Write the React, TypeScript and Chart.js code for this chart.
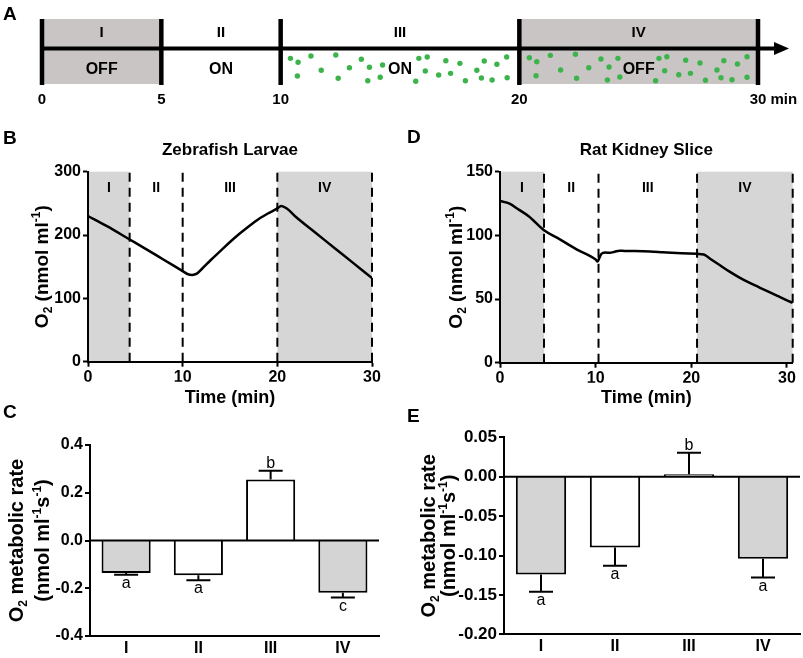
import React, { useEffect, useRef } from 'react';
import { Chart, registerables } from 'chart.js';

Chart.register(...registerables);

const FONT = '"Liberation Sans", Arial, Helvetica, sans-serif';
Chart.defaults.font.family = FONT;
Chart.defaults.color = '#000';

// ---------------- data ----------------
const phases = ['I', 'II', 'III', 'IV'];
const lightStates = ['OFF', 'ON', 'ON', 'OFF'];
const timelineBounds = [0, 5, 10, 20, 30];

// green dots (minutes, relative height in the timeline band)
const dotTimes = [
  10.41, 10.73, 11.27, 10.7, 11.7, 12.31, 12.41, 12.88, 13.38, 13.72, 13.65, 14.27, 14.17, 15.79, 16.14,
  16.06, 15.66, 16.62, 16.92, 17.12, 17.51, 17.74, 18.22, 18.53, 18.41, 18.86, 19.06, 19.47, 19.49,
  20.42, 20.73, 21.3, 20.7, 21.73, 22.35, 22.4, 22.91, 23.42, 23.76, 23.69, 24.13, 24.21, 25.85, 26.18,
  26.09, 25.71, 26.68, 26.97, 27.17, 27.57, 27.8, 28.28, 28.57, 28.45, 28.91, 29.14, 29.54, 29.54,
];
const dotLevels = [
  0.395, 0.334, 0.431, 0.123, 0.211, 0.446, 0.088, 0.251, 0.38, 0.257, 0.051, 0.292, 0.103, 0.395, 0.415,
  0.2, 0.042, 0.138, 0.358, 0.164, 0.318, 0.051, 0.211, 0.354, 0.092, 0.062, 0.303, 0.415, 0.097,
  0.405, 0.343, 0.441, 0.128, 0.215, 0.457, 0.088, 0.251, 0.385, 0.262, 0.062, 0.395, 0.108, 0.395, 0.42,
  0.205, 0.051, 0.143, 0.365, 0.164, 0.323, 0.057, 0.215, 0.359, 0.097, 0.066, 0.308, 0.42, 0.103,
];

const zebraTime = [0, 2, 4.4, 6, 8, 10, 10.5, 11, 11.5, 12, 13, 14, 15, 16, 17, 18, 19, 20, 20.4, 21, 22, 24, 26, 28, 30];
const zebraO2 = [230, 214, 193, 179, 161, 143, 138.5, 137, 139, 146, 161, 175, 189, 202, 214, 225, 234, 242, 246, 242, 228, 204, 180, 156, 132];
const zebraBounds = [0, 4.4, 10, 20, 30];
const zebraYTicks = [0, 100, 200, 300];

const kidneyTime = [0, 1, 2, 3, 4.6, 6, 8, 10, 10.2, 10.4, 10.6, 11, 11.5, 12, 12.5, 13, 15, 17, 19, 20.6, 21.3, 22, 23, 24, 25, 26, 27, 28, 29, 30, 30.6];
const kidneyO2 = [127, 125, 120, 115, 104, 98, 89, 81, 79.5, 82.5, 85.5, 86.5, 86.3, 87.2, 88, 87.8, 87.5, 86.8, 86, 85.5, 85, 81.5, 76.5, 71.5, 67, 63, 59.5, 56, 52.5, 49, 47];
const kidneyBounds = [0, 4.6, 10.3, 20.6, 30.6];
const kidneyYTicks = [0, 50, 100, 150];

const timeTicks = [0, 10, 20, 30];

const zebraRate = [-0.136, -0.146, 0.256, -0.219];
const zebraErr = [0.007, 0.021, 0.036, 0.02];
const zebraSig = ['a', 'a', 'b', 'c'];
const zebraRateTicks = [-0.4, -0.2, 0, 0.2, 0.4];

const kidneyRate = [-0.124, -0.09, 0.003, -0.104];
const kidneyErr = [0.022, 0.023, 0.0275, 0.024];
const kidneySig = ['a', 'a', 'b', 'a'];
const kidneyRateTicks = [-0.2, -0.15, -0.1, -0.05, 0, 0.05];

// ---------------- styles ----------------
const SHADE_TIMELINE = '#c9c5c5';
const SHADE_PLOT = '#d6d6d6';
const BAR_GRAY = '#d4d4d4';
const DOT_GREEN = '#3cb44b';
const tickFont = (size: number) => ({ family: FONT, size, weight: 'bold' as const });

type Seg = [string, number]; // 0 normal, 1 superscript, -1 subscript

function drawRich(ctx: CanvasRenderingContext2D, segs: Seg[], cx: number, cy: number, size: number, rotated: boolean) {
  ctx.save();
  ctx.translate(cx, cy);
  if (rotated) ctx.rotate(-Math.PI / 2);
  ctx.textBaseline = 'alphabetic';
  ctx.textAlign = 'left';
  ctx.fillStyle = '#000';
  const fontFor = (k: number) => `bold ${k === 0 ? size : Math.round(size * 0.62)}px ${FONT}`;
  let total = 0;
  for (const [t, k] of segs) {
    ctx.font = fontFor(k);
    total += ctx.measureText(t).width;
  }
  let x = -total / 2;
  const base = size * 0.36;
  for (const [t, k] of segs) {
    ctx.font = fontFor(k);
    const dy = k === 1 ? -size * 0.4 : k === -1 ? size * 0.2 : 0;
    ctx.fillText(t, x, base + dy);
    x += ctx.measureText(t).width;
  }
  ctx.restore();
}

function drawText(ctx: CanvasRenderingContext2D, text: string, x: number, y: number, font: string, align: CanvasTextAlign = 'center', baseline: CanvasTextBaseline = 'middle') {
  ctx.save();
  ctx.font = font;
  ctx.fillStyle = '#000';
  ctx.textAlign = align;
  ctx.textBaseline = baseline;
  ctx.fillText(text, x, y);
  ctx.restore();
}

// ---------------- panel A ----------------
const timelinePlugin = {
  id: 'timeline',
  beforeDraw(chart: any) {
    const { ctx, chartArea, scales } = chart;
    const x = scales.x;
    ctx.save();
    ctx.fillStyle = SHADE_TIMELINE;
    lightStates.forEach((s, i) => {
      if (s !== 'OFF') return;
      const x0 = x.getPixelForValue(timelineBounds[i]);
      const x1 = x.getPixelForValue(timelineBounds[i + 1]);
      ctx.fillRect(x0, chartArea.top, x1 - x0, chartArea.bottom - chartArea.top);
    });
    ctx.restore();
  },
  afterDatasetsDraw(chart: any) {
    const { ctx, chartArea, scales } = chart;
    const x = scales.x;
    const { top, bottom } = chartArea;
    const lineY = top + 29.5;
    const xEnd = x.getPixelForValue(timelineBounds[timelineBounds.length - 1]);
    ctx.save();
    ctx.strokeStyle = '#000';
    ctx.fillStyle = '#000';
    ctx.lineWidth = 4;
    ctx.beginPath();
    ctx.moveTo(x.getPixelForValue(timelineBounds[0]), lineY);
    ctx.lineTo(xEnd + 18, lineY);
    ctx.stroke();
    ctx.beginPath();
    ctx.moveTo(xEnd + 16, lineY - 6.5);
    ctx.lineTo(xEnd + 31, lineY);
    ctx.lineTo(xEnd + 16, lineY + 6.5);
    ctx.closePath();
    ctx.fill();
    ctx.lineWidth = 4.5;
    timelineBounds.forEach((b) => {
      const px = x.getPixelForValue(b);
      ctx.beginPath();
      ctx.moveTo(px, top);
      ctx.lineTo(px, bottom + 1);
      ctx.stroke();
    });
    ctx.restore();
    phases.forEach((p, i) => {
      const mid = (x.getPixelForValue(timelineBounds[i]) + x.getPixelForValue(timelineBounds[i + 1])) / 2;
      drawText(ctx, p, mid, top + 14, `bold 15px ${FONT}`);
      drawText(ctx, lightStates[i], mid, top + 51, `bold 16px ${FONT}`);
    });
    timelineBounds.forEach((b, i) => {
      const px = x.getPixelForValue(b);
      const label = String(b);
      if (i === timelineBounds.length - 1) {
        ctx.save();
        ctx.font = `bold 15px ${FONT}`;
        const w = ctx.measureText(label).width;
        ctx.restore();
        drawText(ctx, label + ' min', px - w / 2, bottom + 16, `bold 15px ${FONT}`, 'left');
      } else {
        drawText(ctx, label, px, bottom + 16, `bold 15px ${FONT}`);
      }
    });
    drawText(ctx, 'A', 3, 20, `bold 19px ${FONT}`, 'left', 'alphabetic');
  },
};

function timelineConfig(): any {
  return {
    type: 'scatter',
    data: {
      datasets: [
        {
          data: dotTimes.map((t, i) => ({ x: t, y: dotLevels[i] })),
          pointRadius: 2.7,
          pointHoverRadius: 2.7,
          pointBackgroundColor: DOT_GREEN,
          pointBorderWidth: 0,
        },
      ],
    },
    options: {
      animation: false,
      responsive: false,
      events: [],
      layout: { padding: { left: 42, right: 45, top: 19, bottom: 28 } },
      plugins: { legend: { display: false }, tooltip: { enabled: false } },
      scales: {
        x: { type: 'linear', min: 0, max: 30, display: false },
        y: { type: 'linear', min: 0, max: 1, display: false },
      },
    },
    plugins: [timelinePlugin],
  };
}

// ---------------- panels B / D ----------------
interface LineOpts {
  time: number[];
  o2: number[];
  bounds: number[];
  yTicks: number[];
  yMax: number;
  xMax: number;
  padding: any;
  yWidth: number;
  letter: string;
  letterX: number;
  letterY: number;
  title: string;
  titleY: number;
  yTitleOffset: number;
  xTitleY: number;
}

const O2_TITLE: Seg[] = [['O', 0], ['2', -1], [' (nmol ml', 0], ['-1', 1], [')', 0]];

function linePanelPlugin(o: LineOpts) {
  return {
    id: 'linePanel',
    beforeDraw(chart: any) {
      const { ctx, chartArea, scales } = chart;
      const x = scales.x;
      ctx.save();
      ctx.fillStyle = SHADE_PLOT;
      lightStates.forEach((s, i) => {
        if (s !== 'OFF') return;
        const x0 = x.getPixelForValue(o.bounds[i]);
        const x1 = x.getPixelForValue(o.bounds[i + 1]);
        ctx.fillRect(x0, chartArea.top, x1 - x0, chartArea.bottom - chartArea.top);
      });
      ctx.restore();
    },
    beforeDatasetsDraw(chart: any) {
      const { ctx, chartArea, scales } = chart;
      const x = scales.x;
      ctx.save();
      ctx.strokeStyle = '#000';
      ctx.lineWidth = 2;
      ctx.setLineDash([9, 6]);
      o.bounds.slice(1).forEach((b) => {
        const px = x.getPixelForValue(b);
        ctx.beginPath();
        ctx.moveTo(px, chartArea.bottom);
        ctx.lineTo(px, chartArea.top);
        ctx.stroke();
      });
      ctx.restore();
    },
    afterDatasetsDraw(chart: any) {
      const { ctx, chartArea, scales } = chart;
      const x = scales.x;
      phases.forEach((p, i) => {
        const mid = (x.getPixelForValue(o.bounds[i]) + x.getPixelForValue(o.bounds[i + 1])) / 2;
        drawText(ctx, p, mid, chartArea.top + 16, `bold 14px ${FONT}`);
      });
    },
    afterDraw(chart: any) {
      const { ctx, chartArea } = chart;
      const cx = (chartArea.left + chartArea.right) / 2;
      const cy = (chartArea.top + chartArea.bottom) / 2;
      drawText(ctx, o.letter, o.letterX, o.letterY, `bold 19px ${FONT}`, 'left', 'alphabetic');
      drawText(ctx, o.title, cx, o.titleY, `bold 17px ${FONT}`);
      drawText(ctx, 'Time (min)', cx, o.xTitleY, `bold 18px ${FONT}`);
      drawRich(ctx, O2_TITLE, chartArea.left - o.yTitleOffset, cy, 19, true);
    },
  };
}

function lineConfig(o: LineOpts): any {
  return {
    type: 'line',
    data: {
      datasets: [
        {
          data: o.time.map((t, i) => ({ x: t, y: o.o2[i] })),
          borderColor: '#000',
          borderWidth: 2.5,
          pointRadius: 0,
          cubicInterpolationMode: 'monotone',
          fill: false,
        },
      ],
    },
    options: {
      animation: false,
      responsive: false,
      events: [],
      layout: { padding: o.padding },
      plugins: { legend: { display: false }, tooltip: { enabled: false } },
      scales: {
        x: {
          type: 'linear',
          min: 0,
          max: o.xMax,
          afterBuildTicks: (s: any) => {
            s.ticks = timeTicks.map((v) => ({ value: v }));
          },
          afterFit: (s: any) => {
            s.height = 20;
          },
          grid: { drawOnChartArea: false, tickLength: 5, tickWidth: 2, tickColor: '#000' },
          border: { color: '#000', width: 2 },
          ticks: { font: tickFont(16), color: '#000', padding: 1, maxRotation: 0 },
        },
        y: {
          type: 'linear',
          min: 0,
          max: o.yMax,
          afterBuildTicks: (s: any) => {
            s.ticks = o.yTicks.map((v) => ({ value: v }));
          },
          afterFit: (s: any) => {
            s.width = o.yWidth;
          },
          grid: { drawOnChartArea: false, tickLength: 5, tickWidth: 2, tickColor: '#000' },
          border: { color: '#000', width: 2 },
          ticks: { font: tickFont(16), color: '#000', padding: 2 },
        },
      },
    },
    plugins: [linePanelPlugin(o)],
  };
}

// ---------------- panels C / E ----------------
interface BarOpts {
  rate: number[];
  err: number[];
  sig: string[];
  ticks: number[];
  yMin: number;
  yMax: number;
  decimals: number;
  padding: any;
  yWidth: number;
  yTickSize: number;
  letter: string;
  letterX: number;
  letterY: number;
  title1Offset: number;
  title2Offset: number;
}

const RATE_TITLE_1: Seg[] = [['O', 0], ['2', -1], [' metabolic rate', 0]];
const RATE_TITLE_2: Seg[] = [['(nmol ml', 0], ['-1', 1], ['s', 0], ['-1', 1], [')', 0]];

function barPanelPlugin(o: BarOpts) {
  return {
    id: 'barPanel',
    afterDatasetsDraw(chart: any) {
      const { ctx, scales, chartArea } = chart;
      const y = scales.y;
      const meta = chart.getDatasetMeta(0);
      ctx.save();
      ctx.strokeStyle = '#000';
      ctx.lineWidth = 2;
      // zero line on top of the bars
      const zero = y.getPixelForValue(0);
      ctx.beginPath();
      ctx.moveTo(chartArea.left, zero);
      ctx.lineTo(chartArea.right, zero);
      ctx.stroke();
      o.rate.forEach((v, i) => {
        const el = meta.data[i];
        const sign = v >= 0 ? 1 : -1;
        const start = y.getPixelForValue(v);
        const end = y.getPixelForValue(v + sign * o.err[i]);
        ctx.beginPath();
        ctx.moveTo(el.x, start);
        ctx.lineTo(el.x, end);
        ctx.moveTo(el.x - 12, end);
        ctx.lineTo(el.x + 12, end);
        ctx.stroke();
        drawText(ctx, o.sig[i], el.x, sign < 0 ? end + 13 : end - 3, `16px ${FONT}`, 'center', 'alphabetic');
      });
      ctx.restore();
    },
    afterDraw(chart: any) {
      const { ctx, chartArea } = chart;
      const cy = (chartArea.top + chartArea.bottom) / 2;
      drawText(ctx, o.letter, o.letterX, o.letterY, `bold 19px ${FONT}`, 'left', 'alphabetic');
      drawRich(ctx, RATE_TITLE_1, chartArea.left - o.title1Offset, cy, 20, true);
      drawRich(ctx, RATE_TITLE_2, chartArea.left - o.title2Offset, cy, 20, true);
    },
  };
}

function barConfig(o: BarOpts): any {
  return {
    type: 'bar',
    data: {
      labels: phases,
      datasets: [
        {
          data: o.rate,
          backgroundColor: lightStates.map((s) => (s === 'OFF' ? BAR_GRAY : '#ffffff')),
          borderColor: '#000',
          borderWidth: 2,
          borderSkipped: 'start',
          inflateAmount: 0,
          barPercentage: 0.68,
          categoryPercentage: 1,
        },
      ],
    },
    options: {
      animation: false,
      responsive: false,
      events: [],
      layout: { padding: o.padding },
      plugins: { legend: { display: false }, tooltip: { enabled: false } },
      scales: {
        x: {
          afterFit: (s: any) => {
            s.height = 20;
          },
          grid: { display: true, drawOnChartArea: false, drawTicks: false },
          border: { color: '#000', width: 2 },
          ticks: { font: tickFont(16), color: '#000', padding: 3 },
        },
        y: {
          type: 'linear',
          min: o.yMin,
          max: o.yMax,
          afterBuildTicks: (s: any) => {
            s.ticks = o.ticks.map((v) => ({ value: v }));
          },
          afterFit: (s: any) => {
            s.width = o.yWidth;
          },
          grid: {
            drawOnChartArea: false,
            lineWidth: 0,
            tickLength: 5,
            tickWidth: 2,
            tickColor: '#000',
          },
          border: { color: '#000', width: 2 },
          ticks: {
            font: tickFont(o.yTickSize),
            color: '#000',
            padding: 2,
            callback: (v: any) => Number(v).toFixed(o.decimals),
          },
        },
      },
    },
    plugins: [barPanelPlugin(o)],
  };
}

// ---------------- component ----------------
function ChartBox({ left, top, width, height, make }: { left: number; top: number; width: number; height: number; make: () => any }) {
  const ref = useRef<HTMLCanvasElement>(null);
  useEffect(() => {
    const chart = new Chart(ref.current as HTMLCanvasElement, make());
    return () => chart.destroy();
  }, []);
  return (
    <canvas
      ref={ref}
      width={width}
      height={height}
      style={{ position: 'absolute', left, top, width, height }}
    />
  );
}

export default function App() {
  return (
    <div style={{ position: 'absolute', left: 0, top: 0, width: 803, height: 658, background: '#fff', overflow: 'hidden' }}>
      <ChartBox left={0} top={0} width={803} height={112} make={timelineConfig} />
      <ChartBox
        left={0}
        top={110}
        width={400}
        height={300}
        make={() =>
          lineConfig({
            time: zebraTime,
            o2: zebraO2,
            bounds: zebraBounds,
            yTicks: zebraYTicks,
            yMax: 300,
            xMax: 30,
            padding: { left: 0, top: 61.7, right: 28, bottom: 28.3 },
            yWidth: 88,
            letter: 'B',
            letterX: 3,
            letterY: 34,
            title: 'Zebrafish Larvae',
            titleY: 40,
            yTitleOffset: 47,
            xTitleY: 288,
          })
        }
      />
      <ChartBox
        left={400}
        top={110}
        width={403}
        height={300}
        make={() =>
          lineConfig({
            time: kidneyTime,
            o2: kidneyO2,
            bounds: kidneyBounds,
            yTicks: kidneyYTicks,
            yMax: 150,
            xMax: 30.6,
            padding: { left: 0, top: 61.7, right: 10.3, bottom: 27.3 },
            yWidth: 100,
            letter: 'D',
            letterX: 7,
            letterY: 33,
            title: 'Rat Kidney Slice',
            titleY: 40,
            yTitleOffset: 45,
            xTitleY: 288,
          })
        }
      />
      <ChartBox
        left={0}
        top={395}
        width={400}
        height={263}
        make={() =>
          barConfig({
            rate: zebraRate,
            err: zebraErr,
            sig: zebraSig,
            ticks: zebraRateTicks,
            yMin: -0.4,
            yMax: 0.4,
            decimals: 1,
            padding: { left: 0, top: 50, right: 21, bottom: 2 },
            yWidth: 90,
            yTickSize: 16,
            letter: 'C',
            letterX: 3,
            letterY: 23,
            title1Offset: 74,
            title2Offset: 48,
          })
        }
      />
      <ChartBox
        left={400}
        top={395}
        width={403}
        height={263}
        make={() =>
          barConfig({
            rate: kidneyRate,
            err: kidneyErr,
            sig: kidneySig,
            ticks: kidneyRateTicks,
            yMin: -0.2,
            yMax: 0.05,
            decimals: 2,
            padding: { left: 0, top: 42.3, right: 3, bottom: 3.7 },
            yWidth: 104,
            yTickSize: 17,
            letter: 'E',
            letterX: 7,
            letterY: 27,
            title1Offset: 76,
            title2Offset: 56,
          })
        }
      />
    </div>
  );
}
